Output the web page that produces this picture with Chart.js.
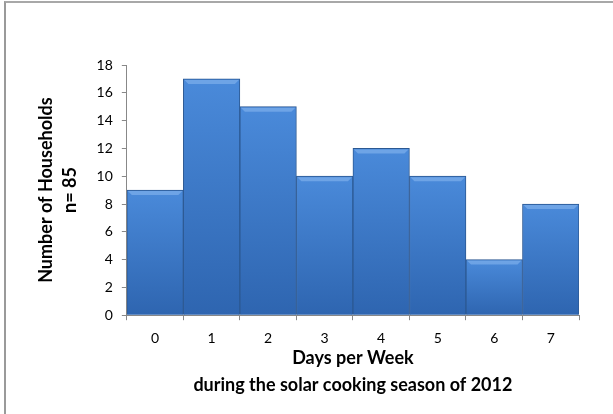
<!DOCTYPE html>
<html>
<head>
<meta charset="utf-8">
<script src="https://cdn.jsdelivr.net/npm/chart.js@4"></script>
<style>
  html, body { margin: 0; padding: 0; background: #fff; }
  #wrap { position: relative; width: 613px; height: 414px; }
  #frame { position: absolute; left: 4px; top: 1px; right: -10px; bottom: -10px;
           border-left: 2px solid #9a9a9a; border-top: 2px solid #a8a8a8; pointer-events: none; }
</style>
</head>
<body>
<div id="wrap">
  <canvas id="chart" width="613" height="414"></canvas>
  <div id="frame"></div>
</div>
<script>
    // Data
    const days = ['0', '1', '2', '3', '4', '5', '6', '7'];
    const households = [9, 17, 15, 10, 12, 10, 4, 8];
    const yTitle = ['Number of Households', 'n= 85'];
    const xTitle = ['Days per Week', 'during the solar cooking season of 2012'];

    const fontFamily = 'Lato, "Open Sans", sans-serif';

    // Gradient per bar, from its top down to the zero line
    function barFill(context) {
      const chart = context.chart;
      const y = chart.scales.y;
      if (!y || !chart.chartArea) return '#3d78c8';
      const top = y.getPixelForValue(context.raw);
      const bottom = y.getPixelForValue(0);
      const g = chart.ctx.createLinearGradient(0, top, 0, bottom);
      g.addColorStop(0, '#4a8ada');
      g.addColorStop(1, '#2e65b0');
      return g;
    }

    // Light bevel along the top of each bar
    const bevel = {
      id: 'bevel',
      afterDatasetsDraw(chart) {
        const ctx = chart.ctx;
        chart.getDatasetMeta(0).data.forEach(bar => {
          const left = bar.x - bar.width / 2 + 1;
          const right = bar.x + bar.width / 2 - 1;
          ctx.save();
          ctx.fillStyle = 'rgba(140, 185, 240, 0.55)';
          ctx.beginPath();
          ctx.moveTo(left, bar.y + 1);
          ctx.lineTo(right, bar.y + 1);
          ctx.lineTo(right - 4, bar.y + 5);
          ctx.lineTo(left + 4, bar.y + 5);
          ctx.closePath();
          ctx.fill();
          ctx.restore();
        });
      }
    };

    new Chart(document.getElementById('chart'), {
      type: 'bar',
      data: {
        labels: days,
        datasets: [{
          data: households,
          backgroundColor: barFill,
          borderColor: '#2b5892',
          borderWidth: 1,
          barPercentage: 1,
          categoryPercentage: 1
        }]
      },
      options: {
        responsive: false,
        animation: false,
        devicePixelRatio: 1,
        layout: { padding: { left: 30, right: 34, top: 65, bottom: 11 } },
        plugins: { legend: { display: false }, tooltip: { enabled: false } },
        scales: {
          x: {
            grid: { drawOnChartArea: false, color: '#888', tickLength: 5, offset: true },
            border: { color: '#888' },
            ticks: { color: '#000', font: { family: fontFamily, size: 14 }, padding: 10 },
            title: {
              display: true, text: xTitle, color: '#000',
              font: { family: fontFamily, size: 18, weight: 'bold', lineHeight: 1.5 },
              padding: { top: -12 }
            }
          },
          y: {
            min: 0, max: 18,
            grid: { drawOnChartArea: false, color: '#888', tickLength: 5 },
            border: { color: '#888' },
            ticks: { stepSize: 2, color: '#000', font: { family: fontFamily, size: 14 }, padding: 9 },
            title: {
              display: true, text: yTitle, color: '#000',
              font: { family: fontFamily, size: 18, weight: 'bold', lineHeight: 1.35 },
              padding: { bottom: 5 }
            }
          }
        }
      },
      plugins: [bevel]
    });
</script>
</body>
</html>
